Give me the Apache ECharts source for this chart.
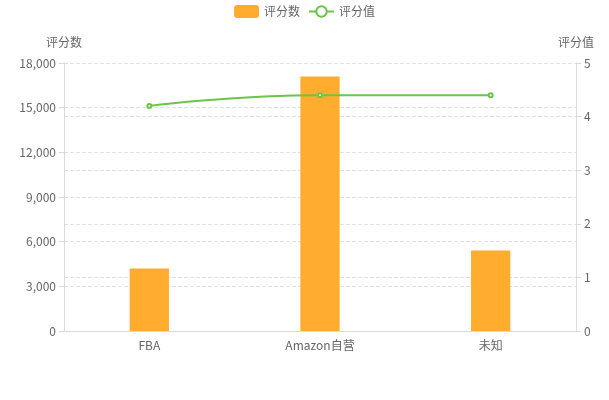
<!DOCTYPE html>
<html><head><meta charset="utf-8">
<script src="https://cdn.jsdelivr.net/npm/echarts@6/dist/echarts.min.js"></script>
<style>html,body{margin:0;padding:0;}#c{width:609px;height:400px;}</style>
</head><body><div id="c"></div>
<script>
const categories = ['FBA', 'Amazon自营', '未知'];
const ratingCounts = [4200, 17100, 5400];
const ratingValues = [4.2, 4.4, 4.4];
const chart = echarts.init(document.getElementById('c'));
const font = '"Noto Sans CJK SC", "Noto Sans", sans-serif';
const axisCommon = {
  axisLine: { show: true, lineStyle: { color: '#d9d9e3' } },
  axisTick: { show: true, lineStyle: { color: '#d9d9e3' } },
  axisLabel: { color: '#666', fontFamily: font, fontSize: 12 },
  splitLine: { show: true, lineStyle: { type: 'dashed', color: '#e0e0e8' } },
  nameTextStyle: { color: '#666', fontFamily: font, fontSize: 12 }
};
chart.setOption({
  textStyle: { fontFamily: font },
  legend: {
    top: 0, left: 'center', itemWidth: 25, itemHeight: 13,
    textStyle: { color: '#666', fontFamily: font, fontSize: 12 },
    data: ['评分数', '评分值']
  },
  grid: { left: 64, right: 33, top: 63, bottom: 69 },
  xAxis: {
    type: 'category', data: categories,
    axisLine: { lineStyle: { color: '#d9d9e3' } },
    axisTick: { lineStyle: { color: '#d9d9e3' } },
    axisLabel: { color: '#666', fontFamily: font, fontSize: 12 }
  },
  yAxis: [
    Object.assign({ type: 'value', name: '评分数', min: 0, max: 18000, interval: 3000 }, axisCommon),
    Object.assign({ type: 'value', name: '评分值', min: 0, max: 5, interval: 1 }, axisCommon)
  ],
  series: [
    { name: '评分数', type: 'bar', data: ratingCounts, barWidth: '23%', itemStyle: { color: '#ffac2f' } },
    { name: '评分值', type: 'line', yAxisIndex: 1, data: ratingValues, smooth: true,
      symbol: 'emptyCircle', symbolSize: 4,
      itemStyle: { color: '#6cc54b' }, lineStyle: { width: 2, color: '#6cc54b' } }
  ]
});
</script></body></html>
